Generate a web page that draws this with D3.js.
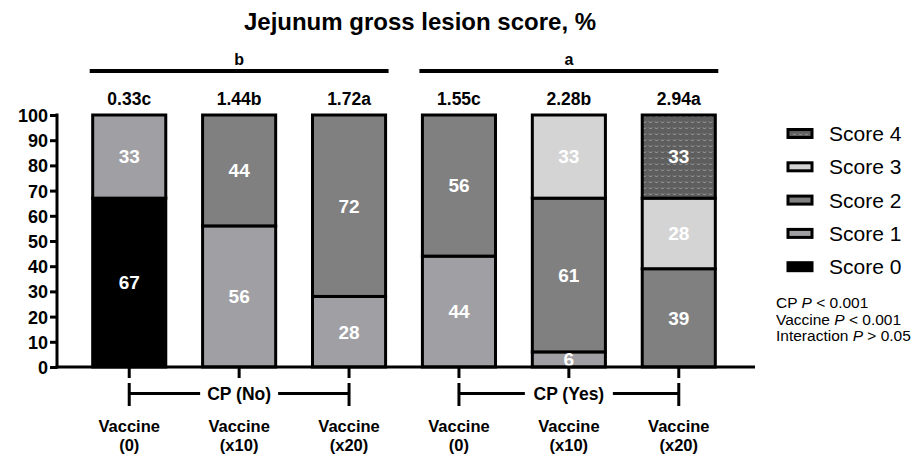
<!DOCTYPE html>
<html>
<head>
<meta charset="utf-8">
<script src="https://d3js.org/d3.v7.min.js"></script>
<style>
  body { margin: 0; background: #fff; }
  svg text { font-family: Arial, "Liberation Sans", sans-serif; }
</style>
</head>
<body>
<div id="chart"></div>
<script>
// data
var groups = ["CP0-V0", "CP0-V10", "CP0-V20", "CP1-V0", "CP1-V10", "CP1-V20"];
var vaccineLabels = ["(0)", "(x10)", "(x20)", "(0)", "(x10)", "(x20)"];
var meanLabels = ["0.33c", "1.44b", "1.72a", "1.55c", "2.28b", "2.94a"];
var scores = ["Score 0", "Score 1", "Score 2", "Score 3", "Score 4"];
var score0 = [67, 0, 0, 0, 0, 0];
var score1 = [33, 56, 28, 44, 6, 0];
var score2 = [0, 44, 72, 56, 61, 39];
var score3 = [0, 0, 0, 0, 33, 28];
var score4 = [0, 0, 0, 0, 0, 33];
var yTicks = [0, 10, 20, 30, 40, 50, 60, 70, 80, 90, 100];
var cpGroups = [{name: "CP (No)", letter: "b", from: 0, to: 2}, {name: "CP (Yes)", letter: "a", from: 3, to: 5}];
var pTexts = [["CP ", "P", " < 0.001"], ["Vaccine ", "P", " < 0.001"], ["Interaction ", "P", " > 0.05"]];

var W = 921, H = 456;
var svg = d3.select("#chart").append("svg").attr("width", W).attr("height", H);

var defs = svg.append("defs");
var pat = defs.append("pattern").attr("id", "dots").attr("patternUnits", "userSpaceOnUse")
  .attr("width", 6).attr("height", 6);
pat.append("rect").attr("width", 6).attr("height", 6).attr("fill", "#5e5e5e");
pat.append("path").attr("d", "M1,1.5 L2.5,3 L4,1.5").attr("stroke", "#a8a8a8").attr("stroke-width", 1).attr("fill", "none");

var fills = ["#000000", "#a0a0a4", "#808080", "#d4d4d4", "url(#dots)"];
var series = [score0, score1, score2, score3, score4];

var x = d3.scaleBand().domain(groups).range([74, 734]).paddingInner(0.335).paddingOuter(0.17);
var y = d3.scaleLinear().domain([0, 100]).range([367, 115]);

// title
svg.append("text").attr("x", 420).attr("y", 30).attr("text-anchor", "middle")
  .style("font-size", "24px").style("font-weight", "bold").text("Jejunum gross lesion score, %");

// y axis
var yAxis = svg.append("g").attr("transform", "translate(57,0)")
  .call(d3.axisLeft(y).tickValues(yTicks).tickSize(7).tickPadding(2));
yAxis.select(".domain").attr("stroke", "#000").attr("stroke-width", 3).attr("d", "M0,113.5V368.5");
yAxis.selectAll(".tick line").attr("stroke-width", 3);
yAxis.selectAll(".tick text").style("font-size", "18px").style("font-weight", "bold").attr("fill", "#000").attr("dy", "0.36em");

// stacked bars
var rows = groups.map(function(g, i) {
  var r = {g: g};
  scores.forEach(function(s, k) { r[s] = series[k][i]; });
  return r;
});
var stacked = d3.stack().keys(scores)(rows);

stacked.forEach(function(layer, k) {
  layer.forEach(function(d, i) {
    if (d[1] - d[0] <= 0) return;
    svg.append("rect")
      .attr("x", x(groups[i])).attr("width", x.bandwidth())
      .attr("y", y(d[1])).attr("height", y(d[0]) - y(d[1]))
      .attr("fill", fills[k]).attr("stroke", "#000").attr("stroke-width", 3);
  });
});
stacked.forEach(function(layer, k) {
  layer.forEach(function(d, i) {
    var v = d[1] - d[0];
    if (v <= 0) return;
    svg.append("text")
      .attr("x", x(groups[i]) + x.bandwidth() / 2)
      .attr("y", y((d[0] + d[1]) / 2))
      .attr("dy", "0.36em")
      .attr("text-anchor", "middle").attr("fill", "#fff")
      .style("font-size", "19px").style("font-weight", "bold").text(v);
  });
});

// x axis line and ticks
svg.append("line").attr("x1", 55.5).attr("x2", 755).attr("y1", 367).attr("y2", 367)
  .attr("stroke", "#000").attr("stroke-width", 3);
groups.forEach(function(g, i) {
  var cx = x(g) + x.bandwidth() / 2;
  svg.append("line").attr("x1", cx).attr("x2", cx).attr("y1", 367).attr("y2", 378)
    .attr("stroke", "#000").attr("stroke-width", 3);
  svg.append("text").attr("x", cx).attr("y", 105).attr("text-anchor", "middle")
    .style("font-size", "17.5px").style("font-weight", "bold").text(meanLabels[i]);
  svg.append("text").attr("x", cx).attr("y", 432).attr("text-anchor", "middle")
    .style("font-size", "16.5px").style("font-weight", "bold").text("Vaccine");
  svg.append("text").attr("x", cx).attr("y", 451).attr("text-anchor", "middle")
    .style("font-size", "16.5px").style("font-weight", "bold").text(vaccineLabels[i]);
});

// CP brackets and top group lines
cpGroups.forEach(function(c) {
  var x0 = x(groups[c.from]) + x.bandwidth() / 2;
  var x1 = x(groups[c.to]) + x.bandwidth() / 2;
  var mid = (x0 + x1) / 2;
  var half = c.name.length * 5 + 4;
  var gb = svg.append("g").attr("stroke", "#000").attr("stroke-width", 3);
  gb.append("line").attr("x1", x0).attr("x2", x0).attr("y1", 383).attr("y2", 406);
  gb.append("line").attr("x1", x1).attr("x2", x1).attr("y1", 383).attr("y2", 406);
  gb.append("line").attr("x1", x0).attr("x2", mid - half).attr("y1", 393.5).attr("y2", 393.5);
  gb.append("line").attr("x1", mid + half).attr("x2", x1).attr("y1", 393.5).attr("y2", 393.5);
  svg.append("text").attr("x", mid).attr("y", 400).attr("text-anchor", "middle")
    .style("font-size", "17.5px").style("font-weight", "bold").text(c.name);

  var l0 = x(groups[c.from]) - 3, l1 = x(groups[c.to]) + x.bandwidth() + 3;
  svg.append("line").attr("x1", l0).attr("x2", l1).attr("y1", 71).attr("y2", 71)
    .attr("stroke", "#000").attr("stroke-width", 4);
  svg.append("text").attr("x", (l0 + l1) / 2).attr("y", 65).attr("text-anchor", "middle")
    .style("font-size", "16px").style("font-weight", "bold").text(c.letter);
});

// legend
var legendOrder = [4, 3, 2, 1, 0];
legendOrder.forEach(function(k, j) {
  var ly = 133.5 + j * 33.3;
  svg.append("rect").attr("x", 788).attr("y", ly - 4).attr("width", 24).attr("height", 8)
    .attr("fill", fills[k]).attr("stroke", "#000").attr("stroke-width", 3);
  svg.append("text").attr("x", 829).attr("y", ly).attr("dy", "0.36em")
    .style("font-size", "21px").text(scores[k]);
});

// p values
pTexts.forEach(function(p, j) {
  var t = svg.append("text").attr("x", 776).attr("y", 308 + j * 16.5).style("font-size", "15.5px");
  t.append("tspan").text(p[0]);
  t.append("tspan").style("font-style", "italic").text(p[1]);
  t.append("tspan").text(p[2]);
});
</script>
</body>
</html>
